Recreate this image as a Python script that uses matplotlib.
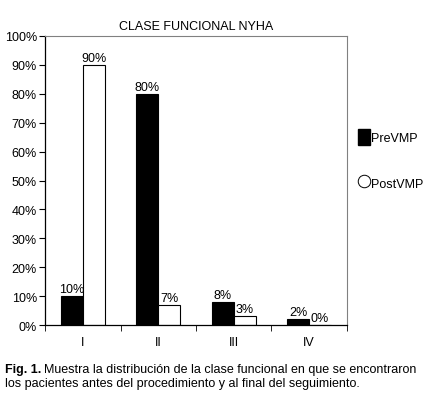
import numpy as np
import matplotlib.pyplot as plt
from matplotlib.patches import Patch
from matplotlib.lines import Line2D

plt.rcParams['font.family'] = ['Liberation Sans', 'DejaVu Sans']

clases = ['I', 'II', 'III', 'IV']
pre_vmp = [10, 80, 8, 2]
post_vmp = [90, 7, 3, 0]

fs = 9
fig = plt.figure(figsize=(4.26, 4.02), dpi=100)
ax = fig.add_axes([0.106, 0.189, 0.708, 0.719])

x = np.arange(len(clases))
w = 0.29
b1 = ax.bar(x - w/2, pre_vmp, w, color='black', edgecolor='black', linewidth=0.8)
b2 = ax.bar(x + w/2, post_vmp, w, color='white', edgecolor='black', linewidth=0.8)

for bars, vals in [(b1, pre_vmp), (b2, post_vmp)]:
    for r, v in zip(bars, vals):
        ax.text(r.get_x() + r.get_width()/2, v + 0.3, '{}%'.format(v),
                ha='center', va='bottom', fontsize=fs)

ax.set_xlim(-0.5, 3.5)
ax.set_ylim(0, 100)
ax.set_yticks(range(0, 101, 10))
ax.set_yticklabels(['{}%'.format(t) for t in range(0, 101, 10)], fontsize=fs)
ax.set_xticks(x)
ax.set_xticklabels(clases, fontsize=fs)
ax.set_xticks(np.arange(-0.5, 4, 1), minor=True)
ax.tick_params(axis='x', which='major', length=0, pad=8)
ax.tick_params(axis='x', which='minor', length=4, direction='out')
ax.tick_params(axis='y', length=4, direction='out', pad=2)

for s in ['top', 'right']:
    ax.spines[s].set_color('#808080')
    ax.spines[s].set_linewidth(0.8)
for s in ['left', 'bottom']:
    ax.spines[s].set_linewidth(0.9)

ax.set_title('CLASE FUNCIONAL NYHA', fontsize=fs, pad=5)

h1 = Patch(facecolor='black', edgecolor='black')
h2 = Line2D([], [], marker='o', linestyle='none', markerfacecolor='white',
            markeredgecolor='black', markersize=9, markeredgewidth=0.7)
fig.legend([h1, h2], ['PreVMP', 'PostVMP'], loc='upper left',
           bbox_to_anchor=(0.815, 0.705), frameon=False, fontsize=fs,
           handlelength=0.9, handleheight=1.6, handletextpad=0.1,
           labelspacing=2.4)

# pie de figura
t1 = fig.text(0.012, 0.072, 'Fig. 1.', fontsize=fs, fontweight='bold')
fig.canvas.draw()
bb = t1.get_window_extent()
x2 = (bb.x1 + 3) / fig.bbox.width
fig.text(x2, 0.072, 'Muestra la distribución de la clase funcional en que se encontraron',
         fontsize=fs)
fig.text(0.012, 0.037, 'los pacientes antes del procedimiento y al final del seguimiento.',
         fontsize=fs)

fig.savefig('out.png', dpi=100)
